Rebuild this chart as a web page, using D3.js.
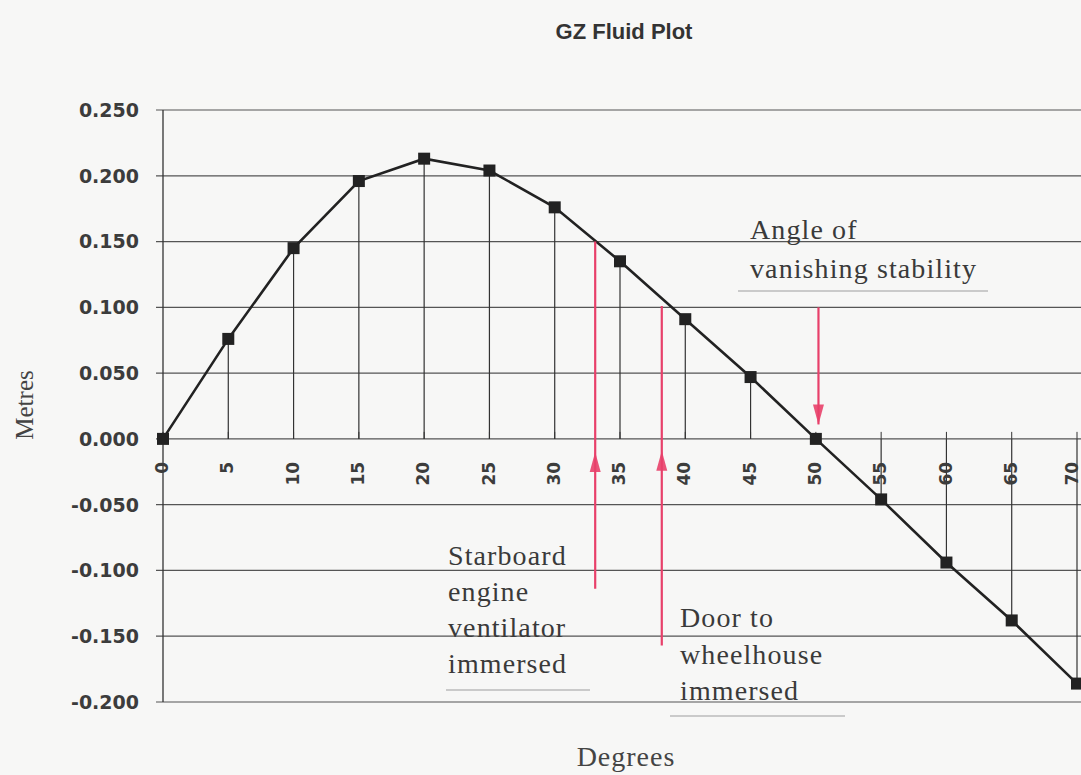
<!DOCTYPE html>
<html>
<head>
<meta charset="utf-8">
<script src="https://cdn.jsdelivr.net/npm/d3@7"></script>
<style>
  body { margin: 0; background: #f7f7f6; }
  .canvas svg { display: block; }
</style>
</head>
<body>
<div class="canvas"></div>
<script>
// GZ curve
var degrees = [0, 5, 10, 15, 20, 25, 30, 35, 40, 45, 50, 55, 60, 65, 70];
var gz = [0.000, 0.076, 0.145, 0.196, 0.213, 0.204, 0.176, 0.135, 0.091, 0.047, 0.000, -0.046, -0.094, -0.138, -0.186];
var yTicks = [0.25, 0.2, 0.15, 0.1, 0.05, 0, -0.05, -0.1, -0.15, -0.2];

// red arrows: angle, line from / to (metres), arrow tip (metres), pointing up?
var arrowDeg = [33.1, 38.2, 50.2];
var arrowFrom = [0.150, 0.101, 0.100];
var arrowTo = [-0.114, -0.157, 0.011];
var arrowTip = [-0.010, -0.009, 0.011];
var arrowUp = [true, true, false];

var notes = [
  {lines: ["Angle of", "vanishing stability"], x: 750, y: 239, gap: 39},
  {lines: ["Starboard", "engine", "ventilator", "immersed"], x: 448, y: 565, gap: 36},
  {lines: ["Door to", "wheelhouse", "immersed"], x: 680, y: 627, gap: 36.5}
];

var width = 1081, height = 775;
const svg = d3.select(".canvas").append("svg")
            .attr("width", width)
            .attr("height", height);

var x = d3.scaleLinear().domain([0, 70]).range([163, 1077]);
var y = d3.scaleLinear().domain([-0.2, 0.25]).range([702, 110]);

// title
svg.append("text")
   .text("GZ Fluid Plot")
   .attr("x", 624).attr("y", 39)
   .attr("text-anchor", "middle")
   .attr("font-family", "'Liberation Sans Narrow', 'Arial Narrow', 'Liberation Sans', sans-serif")
   .attr("font-weight", "bold")
   .attr("font-size", 22)
   .attr("fill", "#333");

// horizontal grid lines
svg.selectAll("line.grid")
   .data(yTicks)
   .enter().append("line")
   .attr("class", "grid")
   .attr("x1", 156).attr("x2", width)
   .attr("y1", function(d) { return y(d); })
   .attr("y2", function(d) { return y(d); })
   .attr("stroke", "#555")
   .attr("stroke-width", 1.2);

// y labels
svg.selectAll("text.ylab")
   .data(yTicks)
   .enter().append("text")
   .attr("class", "ylab")
   .text(function(d) { return d3.format(".3f")(d).replace("−", "-"); })
   .attr("x", 139)
   .attr("y", function(d) { return y(d); })
   .attr("dy", "0.36em")
   .attr("text-anchor", "end")
   .attr("font-family", "'DejaVu Sans', sans-serif")
   .attr("font-weight", "bold")
   .attr("font-size", 19)
   .attr("fill", "#3c3c3c");

// left axis line
svg.append("line")
   .attr("x1", x(0)).attr("x2", x(0))
   .attr("y1", y(0.25)).attr("y2", y(-0.2))
   .attr("stroke", "#333").attr("stroke-width", 1.3);

// tick marks on zero line
svg.selectAll("line.xtick")
   .data(degrees)
   .enter().append("line")
   .attr("class", "xtick")
   .attr("x1", function(d) { return x(d); })
   .attr("x2", function(d) { return x(d); })
   .attr("y1", y(0) - 7).attr("y2", y(0))
   .attr("stroke", "#333");

// drop lines from points to zero
svg.selectAll("line.drop")
   .data(degrees)
   .enter().append("line")
   .attr("class", "drop")
   .attr("x1", function(d) { return x(d); })
   .attr("x2", function(d) { return x(d); })
   .attr("y1", y(0))
   .attr("y2", function(d, i) { return y(gz[i]); })
   .attr("stroke", "#333")
   .attr("stroke-width", 1.2);

// x labels, rotated (last one pulled in so it stays on the page)
svg.selectAll("text.xlab")
   .data(degrees)
   .enter().append("text")
   .attr("class", "xlab")
   .text(function(d) { return d; })
   .attr("transform", function(d) {
       var px = Math.min(x(d) - 1, width - 9);
       return "translate(" + px + "," + (y(0) + 23) + ") rotate(-90)";
   })
   .attr("dy", "0.36em")
   .attr("text-anchor", "end")
   .attr("font-family", "'DejaVu Sans', sans-serif")
   .attr("font-weight", "bold")
   .attr("font-size", 17)
   .attr("fill", "#3c3c3c");

// curve
var line = d3.line()
   .x(function(d, i) { return x(degrees[i]); })
   .y(function(d) { return y(d); });

svg.append("path")
   .datum(gz)
   .attr("d", line)
   .attr("fill", "none")
   .attr("stroke", "#222")
   .attr("stroke-width", 2.6);

svg.selectAll("rect.pt")
   .data(gz)
   .enter().append("rect")
   .attr("class", "pt")
   .attr("x", function(d, i) { return x(degrees[i]) - 6; })
   .attr("y", function(d) { return y(d) - 6; })
   .attr("width", 12).attr("height", 12)
   .attr("fill", "#222");

// red arrows
var red = "#e8406a";
svg.selectAll("line.arrow")
   .data(arrowDeg)
   .enter().append("line")
   .attr("class", "arrow")
   .attr("x1", function(d) { return x(d); })
   .attr("x2", function(d) { return x(d); })
   .attr("y1", function(d, i) { return y(arrowFrom[i]); })
   .attr("y2", function(d, i) { return y(arrowTo[i]); })
   .attr("stroke", red)
   .attr("stroke-width", 2.2);

svg.selectAll("path.head")
   .data(arrowDeg)
   .enter().append("path")
   .attr("class", "head")
   .attr("d", function(d, i) {
       var cx = x(d), ty = y(arrowTip[i]);
       var s = arrowUp[i] ? 1 : -1;
       return "M" + cx + "," + ty + " L" + (cx - 5.5) + "," + (ty + s * 20) +
              " L" + (cx + 5.5) + "," + (ty + s * 20) + "Z";
   })
   .attr("fill", red)
   .attr("opacity", 0.9);

// annotation text
notes.forEach(function(n) {
    var t = svg.append("text")
       .attr("font-family", "'Liberation Serif', 'Times New Roman', serif")
       .attr("font-size", 28)
       .attr("letter-spacing", 1.1)
       .attr("fill", "#3a3a3a");
    n.lines.forEach(function(s, i) {
        t.append("tspan").text(s).attr("x", n.x).attr("y", n.y + i * n.gap);
    });
});

// faint underlines from the scan
svg.append("line").attr("x1", 738).attr("x2", 988).attr("y1", 291).attr("y2", 291)
   .attr("stroke", "#bbb").attr("stroke-width", 1.5);
svg.append("line").attr("x1", 446).attr("x2", 590).attr("y1", 690).attr("y2", 690)
   .attr("stroke", "#bbb").attr("stroke-width", 1.5);
svg.append("line").attr("x1", 670).attr("x2", 845).attr("y1", 716).attr("y2", 716)
   .attr("stroke", "#bbb").attr("stroke-width", 1.5);

// axis titles
svg.append("text")
   .text("Metres")
   .attr("transform", "translate(33,405) rotate(-90)")
   .attr("text-anchor", "middle")
   .attr("font-family", "'Liberation Serif', 'Times New Roman', serif")
   .attr("font-size", 25)
   .attr("fill", "#444");

svg.append("text")
   .text("Degrees")
   .attr("x", 626).attr("y", 766)
   .attr("text-anchor", "middle")
   .attr("font-family", "'Liberation Serif', 'Times New Roman', serif")
   .attr("font-size", 28)
   .attr("letter-spacing", 1)
   .attr("fill", "#444");
</script>
</body>
</html>
